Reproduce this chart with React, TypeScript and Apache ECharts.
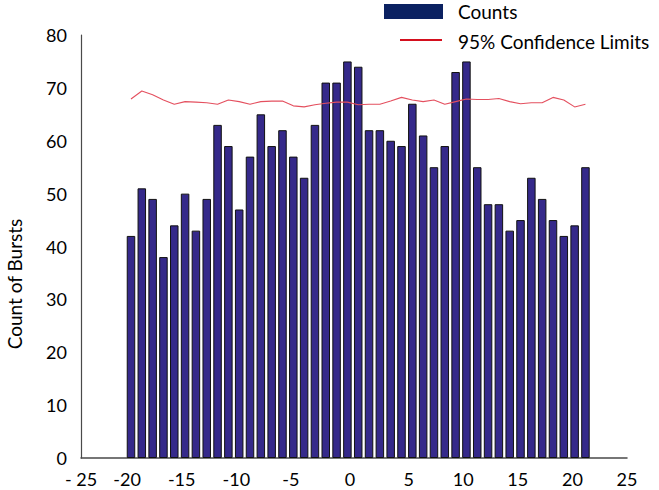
import React, { useEffect, useRef } from "react";
import * as echarts from "echarts";

const bins = [-20,-19,-18,-17,-16,-15,-14,-13,-12,-11,-10,-9,-8,-7,-6,-5,-4,-3,-2,-1,0,1,2,3,4,5,6,7,8,9,10,11,12,13,14,15,16,17,18,19,20,21,22];
const counts = [42,51,49,38,44,50,43,49,63,59,47,57,65,59,62,57,53,63,71,71,75,74,62,62,60,59,67,61,55,59,73,75,55,48,48,43,45,53,49,45,42,44,55];
const limits = [67.9,69.4,68.7,67.7,66.9,67.4,67.3,67.2,66.9,67.7,67.4,66.9,67.4,67.5,67.5,66.6,66.4,66.8,67.1,67.3,67.3,66.8,66.9,66.9,67.5,68.2,67.7,67.4,67.7,66.9,67.4,67.9,67.8,67.8,68.0,67.4,67.0,67.2,67.2,68.2,67.7,66.4,66.9];
const xTicks = { min: -25, max: 25, step: 5 };
const yTicks = { min: 0, max: 80, step: 10 };
const seriesNames = ["Counts", "95% Confidence Limits"];
const yTitle = "Count of Bursts";

const FONT = "Lato";

export default function App() {
  const ref = useRef<HTMLDivElement>(null);
  useEffect(() => {
    if (!ref.current) return;
    const chart = echarts.init(ref.current, null, { renderer: "svg" });
    const labelStyle = { fontSize: 18, fontFamily: FONT, color: "#000" };
    chart.setOption({
      animation: false,
      backgroundColor: "#fff",
      grid: { left: 81, top: 35, width: 546, height: 423 },
      xAxis: [
        {
          type: "value",
          min: xTicks.min,
          max: xTicks.max,
          interval: xTicks.step,
          axisLine: { show: true, onZero: false, lineStyle: { color: "#4a4a4a", width: 1.5 } },
          axisTick: { show: false },
          splitLine: { show: false },
          axisLabel: {
            ...labelStyle,
            margin: 12,
            formatter: (v: number) =>
              v === -25 ? "- 25" : v < 0 ? `{n|${v}}` : v === 0 ? `{z|0}` : `${v}`,
            rich: {
              n: { ...labelStyle, padding: [0, 17, 0, 0] },
              z: { ...labelStyle, padding: [0, 8, 0, 0] },
            },
          },
        },
        {
          type: "value",
          min: -24.62,
          max: 25.84,
          show: false,
        },
      ],
      yAxis: {
        type: "value",
        min: yTicks.min,
        max: yTicks.max,
        interval: yTicks.step,
        axisLine: { show: true, onZero: false, lineStyle: { color: "#4a4a4a", width: 1.2 } },
        axisTick: { show: false },
        splitLine: { show: false },
        axisLabel: { ...labelStyle, margin: 14 },
      },
      series: [
        {
          name: seriesNames[0],
          type: "bar",
          xAxisIndex: 1,
          barWidth: 8.5,
          data: bins.map((b, i) => [b, counts[i]]),
          itemStyle: { color: "#35298a", borderColor: "#111", borderWidth: 1 },
        },
        {
          name: seriesNames[1],
          type: "line",
          xAxisIndex: 1,
          symbol: "none",
          data: bins.map((b, i) => [b, limits[i]]),
          lineStyle: { color: "#e4505f", width: 1.1 },
          z: 5,
        },
      ],
      graphic: [
        {
          type: "text",
          x: 14,
          y: 284,
          rotation: Math.PI / 2,
          style: {
            text: yTitle,
            fontSize: 19,
            fontFamily: FONT,
            fill: "#000",
            align: "center",
            verticalAlign: "middle",
            textAlign: "center",
            textVerticalAlign: "middle",
          },
        },
        {
          type: "rect",
          shape: { x: 384, y: 4, width: 59, height: 15 },
          style: { fill: "#0b2161" },
        },
        {
          type: "text",
          x: 458,
          y: 11,
          style: {
            text: seriesNames[0],
            fontSize: 19,
            fontFamily: FONT,
            fill: "#000",
            verticalAlign: "middle",
            textVerticalAlign: "middle",
          },
        },
        {
          type: "line",
          shape: { x1: 400, y1: 40, x2: 442, y2: 40 },
          style: { stroke: "#d40f1e", lineWidth: 2 },
        },
        {
          type: "text",
          x: 458,
          y: 41,
          style: {
            text: seriesNames[1],
            fontSize: 19,
            fontFamily: FONT,
            fill: "#000",
            verticalAlign: "middle",
            textVerticalAlign: "middle",
          },
        },
      ],
    });
    return () => chart.dispose();
  }, []);
  return (
    <div
      ref={ref}
      style={{ position: "fixed", left: 0, top: 0, width: 659, height: 490 }}
    />
  );
}
